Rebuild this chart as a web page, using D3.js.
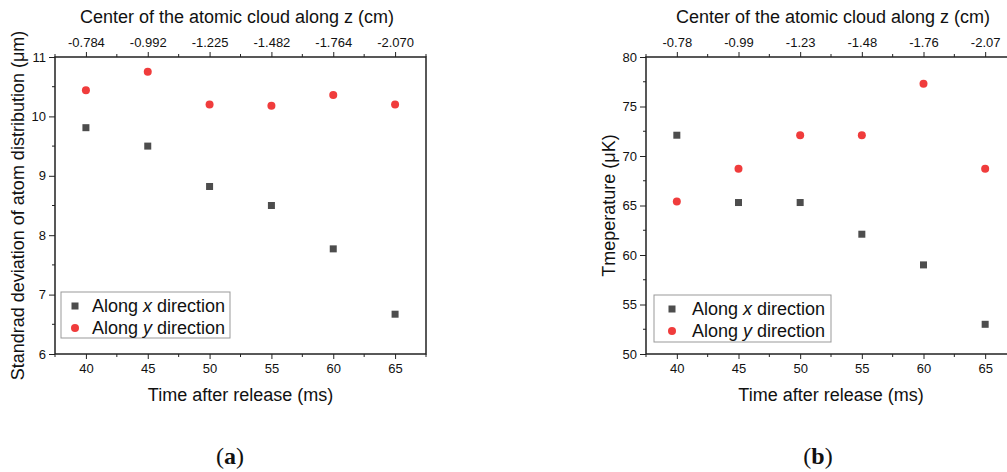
<!DOCTYPE html>
<html>
<head>
<meta charset="utf-8">
<script src="https://cdn.jsdelivr.net/npm/d3@7"></script>
<style>
  html, body { margin: 0; padding: 0; background: #fff; }
  svg { display: block; font-family: "Liberation Sans", Arial, sans-serif; }
</style>
</head>
<body>
<svg id="chart" width="1007" height="472"></svg>
<script>
// ---- data ----
const times = [40, 45, 50, 55, 60, 65];
const zLabelsA = ["-0.784", "-0.992", "-1.225", "-1.482", "-1.764", "-2.070"];
const zLabelsB = ["-0.78", "-0.99", "-1.23", "-1.48", "-1.76", "-2.07"];
const sigmaX = [9.81, 9.50, 8.82, 8.50, 7.77, 6.67];
const sigmaY = [10.44, 10.75, 10.20, 10.18, 10.36, 10.20];
const tempX = [72.1, 65.3, 65.3, 62.1, 59.0, 53.0];
const tempY = [65.4, 68.7, 72.1, 72.1, 77.3, 68.7];
const yTicksA = [6, 7, 8, 9, 10, 11];
const yTicksB = [50, 55, 60, 65, 70, 75, 80];

const svg = d3.select("#chart");
const SQ = "#4d4d4d", RED = "#f03c3c", AX = "#222";

function panel(o) {
  const g = svg.append("g");
  const x = d3.scaleLinear().domain([37.5, 67.5]).range([o.left, o.right]);
  const y = d3.scaleLinear().domain(o.yDomain).range([o.bottom, o.top]);

  // minor ticks
  const minorX = d3.range(37.5, 67.6, 2.5).filter(v => v % 5 !== 0);
  minorX.forEach(v => {
    g.append("line").attr("x1", x(v)).attr("x2", x(v)).attr("y1", o.bottom).attr("y2", o.bottom + 3).attr("stroke", AX);
    g.append("line").attr("x1", x(v)).attr("x2", x(v)).attr("y1", o.top).attr("y2", o.top - 3).attr("stroke", AX);
  });
  const minorY = d3.range(o.yDomain[0], o.yDomain[1], o.yStep / 2).filter((v, i) => i % 2 === 1);
  minorY.forEach(v => {
    g.append("line").attr("x1", o.left).attr("x2", o.left - 3).attr("y1", y(v)).attr("y2", y(v)).attr("stroke", AX);
  });

  // axes
  const bottomAxis = d3.axisBottom(x).tickValues(times).tickSize(5).tickSizeOuter(0).tickPadding(5);
  const gb = g.append("g").attr("transform", `translate(0,${o.bottom})`).call(bottomAxis);
  const topAxis = d3.axisTop(x).tickValues(times).tickFormat((d, i) => o.zLabels[i]).tickSize(5).tickSizeOuter(0).tickPadding(5);
  const gt = g.append("g").attr("transform", `translate(0,${o.top})`).call(topAxis);
  const leftAxis = d3.axisLeft(y).tickValues(o.yTicks).tickFormat(d3.format("d")).tickSize(6).tickSizeOuter(0).tickPadding(3);
  const gl = g.append("g").attr("transform", `translate(${o.left},0)`).call(leftAxis);
  [gb, gt, gl].forEach(a => {
    a.select(".domain").remove();
    a.selectAll("line").attr("stroke", AX).attr("stroke-width", 1);
    a.selectAll("text").attr("font-size", 13).attr("fill", "#111").attr("font-family", "Liberation Sans, Arial, sans-serif");
  });

  // frame
  g.append("rect").attr("x", o.left).attr("y", o.top).attr("width", o.right - o.left).attr("height", o.bottom - o.top)
    .attr("fill", "none").attr("stroke", AX).attr("stroke-width", 1.5);

  // titles
  const cx = (o.left + o.right) / 2;
  g.append("text").attr("x", o.topTitleX).attr("y", 23).attr("text-anchor", "middle").attr("font-size", 18).attr("fill", "#111")
    .text("Center of the atomic cloud along z (cm)");
  g.append("text").attr("x", cx).attr("y", 401).attr("text-anchor", "middle").attr("font-size", 18).attr("fill", "#111")
    .text("Time after release (ms)");
  g.append("text").attr("transform", `translate(${o.yTitleX},${(o.top + o.bottom) / 2}) rotate(-90)`)
    .attr("text-anchor", "middle").attr("dy", "0.35em").attr("font-size", 18).attr("fill", "#111").text(o.yTitle);

  // data
  const clip = g.append("g");
  clip.selectAll(".sq").data(times).enter().append("rect")
    .attr("x", (d) => x(d) - 3.5).attr("y", (d, i) => y(o.sx[i]) - 3.5).attr("width", 7).attr("height", 7).attr("fill", SQ);
  clip.selectAll(".ci").data(times).enter().append("circle")
    .attr("cx", d => x(d)).attr("cy", (d, i) => y(o.sy[i])).attr("r", 4).attr("fill", RED);

  // legend
  const L = o.legend;
  g.append("rect").attr("x", L.x).attr("y", L.y).attr("width", L.w).attr("height", L.h)
    .attr("fill", "#fff").attr("stroke", "#999").attr("stroke-width", 1);
  const rows = [{dir: "x", sym: "sq"}, {dir: "y", sym: "ci"}];
  rows.forEach((r, i) => {
    const cy = L.y + 14 + i * 22;
    if (r.sym === "sq") g.append("rect").attr("x", L.x + L.mx - 3.5).attr("y", cy - 3.5).attr("width", 7).attr("height", 7).attr("fill", SQ);
    else g.append("circle").attr("cx", L.x + L.mx).attr("cy", cy).attr("r", 4).attr("fill", RED);
    const t = g.append("text").attr("x", L.x + L.tx).attr("y", cy + 6).attr("font-size", 18).attr("fill", "#111");
    t.append("tspan").text("Along ");
    t.append("tspan").attr("font-style", "italic").text(r.dir);
    t.append("tspan").text(" direction");
  });

  // caption
  const cap = g.append("text").attr("x", o.capX).attr("y", 464).attr("text-anchor", "middle")
    .attr("font-family", "Liberation Serif, 'DejaVu Serif', serif").attr("font-size", 24).attr("fill", "#111");
  cap.append("tspan").text("(");
  cap.append("tspan").attr("font-weight", "bold").text(o.cap);
  cap.append("tspan").text(")");
}

panel({
  left: 55, right: 426, top: 57, bottom: 354,
  yDomain: [6, 11], yStep: 1, yTicks: yTicksA, zLabels: zLabelsA,
  sx: sigmaX, sy: sigmaY,
  yTitle: "Standrad deviation of atom distribution (\u03bcm)", yTitleX: 18, topTitleX: 237,
  legend: {x: 61, y: 292, w: 169, h: 46, mx: 14, tx: 31},
  cap: "a", capX: 230
});
panel({
  left: 646, right: 1016, top: 57, bottom: 354,
  yDomain: [50, 80], yStep: 5, yTicks: yTicksB, zLabels: zLabelsB,
  sx: tempX, sy: tempY,
  yTitle: "Tmeperature (\u03bcK)", yTitleX: 609, topTitleX: 833,
  legend: {x: 654, y: 295, w: 177, h: 47, mx: 18, tx: 38},
  cap: "b", capX: 818
});
</script>
</body>
</html>
